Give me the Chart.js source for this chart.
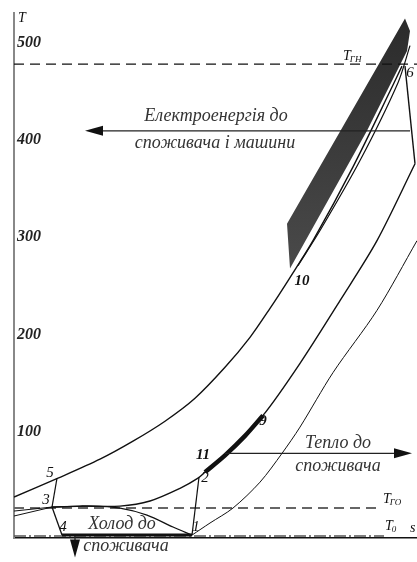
<!DOCTYPE html>
<html>
<head>
<meta charset="utf-8">
<script src="https://cdn.jsdelivr.net/npm/chart.js@4/dist/chart.umd.min.js"></script>
<style>
html, body { margin: 0; padding: 0; background: #fff; }
</style>
</head>
<body>
<canvas id="grafica" width="417" height="562"></canvas>
<script>
// diagrama T-s, s en unidades relativas (0..403), T en grados
const yTicks = [100, 200, 300, 400, 500]

// curva 5 - 10 - 6
const curvaA_s = [0, 44, 86, 119, 151, 181, 211, 236, 256, 276, 299, 339, 379, 388]
const curvaA_T = [42.1, 61.5, 81, 99.5, 120, 143.6, 175.4, 206.2, 236, 267.7, 305.6, 381.5, 465.6, 485]
// paralela a la anterior cerca de 6
const curvaA2_s = [284, 306, 346, 384, 396]
const curvaA2_T = [280, 316, 388, 468, 506]
// curva 3 - 2 - 11 - 9
const curvaB_s = [38, 66, 106, 136, 166, 184, 191, 211, 249, 286, 326, 363, 401]
const curvaB_T = [31.8, 32.8, 32.8, 38, 51, 61.5, 67.7, 85, 126, 179.5, 244, 305.6, 384.6]
const tramo6_s = [401, 391]
const tramo6_T = [384.6, 485]
// tramo grueso 11 - 9
const tramo119_s = [191, 211, 231, 249]
const tramo119_T = [67.7, 85, 105, 126]
// curva fina desde 1
const curvaC_s = [178, 196, 219, 246, 268, 286, 319, 363, 403]
const curvaC_T = [3, 15.4, 30.8, 57.4, 87, 114, 170, 234, 305.6]
// linea inferior 3 - 1
const domo_s = [38, 76, 106, 133, 159, 178]
const domo_T = [31.8, 32.8, 30.8, 23.6, 11.3, 3]
const izq1_s = [0, 38], izq1_T = [27.7, 31.8]
const izq2_s = [0, 38], izq2_T = [22.6, 31.8]
const l34_s = [38, 48], l34_T = [31.8, 3]
const l53_s = [43, 38], l53_T = [61.5, 31.8]
const l12_s = [178, 185], l12_T = [3, 62.6]
const l41_s = [48, 178], l41_T = [3, 3]

// niveles de temperatura
const T_GN = 487
const T_GO = 30.8
const T_0 = 2

// zona oscura (electroenergia)
const banda_s = [273, 276, 301, 353, 393, 396, 391]
const banda_T = [323, 277, 323, 418.5, 500.5, 521, 534]

// flechas [s1, T1, s2, T2]
const flechaElec = [396, 418.5, 71, 418.5]
const flechaCalor = [211, 87, 398, 87]
const flechaFrio = [61, 2, 61, -20]

const textoElec = ['Електроенергія до', 'споживача і машини']
const textoCalor = ['Тепло до', 'споживача']
const textoFrio = ['Холод до', 'споживача']
const puntos = ['5', '3', '4', '1', '2', '11', '9', '10', '6']
const puntos_s = [36, 32, 49, 182, 191, 189, 249, 288, 396]
const puntos_T = [66.5, 39, 11, 11, 61.5, 85, 120, 264, 478]

const pts = (s, T) => s.map((v, i) => ({x: v, y: T[i]}))

function linea(s, T, ancho, extra) {
    return Object.assign({
        data: pts(s, T),
        showLine: true,
        borderColor: '#111',
        borderWidth: ancho,
        pointRadius: 0,
        tension: 0,
        fill: false
    }, extra || {})
}

const serif = '"Liberation Serif", "DejaVu Serif", serif'

function flecha(ctx, x1, y1, x2, y2) {
    const ang = Math.atan2(y2 - y1, x2 - x1)
    ctx.beginPath()
    ctx.moveTo(x1, y1)
    ctx.lineTo(x2 - 10 * Math.cos(ang), y2 - 10 * Math.sin(ang))
    ctx.stroke()
    ctx.beginPath()
    ctx.moveTo(x2, y2)
    ctx.lineTo(x2 - 18 * Math.cos(ang) - 5 * Math.sin(ang), y2 - 18 * Math.sin(ang) + 5 * Math.cos(ang))
    ctx.lineTo(x2 - 18 * Math.cos(ang) + 5 * Math.sin(ang), y2 - 18 * Math.sin(ang) - 5 * Math.cos(ang))
    ctx.closePath()
    ctx.fill()
}

const extras = {
    id: 'extras',
    beforeDatasetsDraw(chart) {
        const {ctx, scales: {x, y}} = chart
        ctx.save()
        const grad = ctx.createLinearGradient(0, y.getPixelForValue(534), 0, y.getPixelForValue(277))
        grad.addColorStop(0, '#2b2b2b')
        grad.addColorStop(1, '#4a4a4a')
        ctx.fillStyle = grad
        ctx.beginPath()
        banda_s.forEach((v, i) => {
            const px = x.getPixelForValue(v), py = y.getPixelForValue(banda_T[i])
            if (i === 0) ctx.moveTo(px, py)
            else ctx.lineTo(px, py)
        })
        ctx.closePath()
        ctx.fill()
        ctx.restore()
    },
    afterDatasetsDraw(chart) {
        const {ctx, scales: {x, y}} = chart
        const X = v => x.getPixelForValue(v)
        const Y = v => y.getPixelForValue(v)
        ctx.save()
        ctx.strokeStyle = '#222'
        ctx.fillStyle = '#111'
        ctx.lineWidth = 1.3
        for (const f of [flechaElec, flechaCalor, flechaFrio]) {
            flecha(ctx, X(f[0]), Y(f[1]), X(f[2]), Y(f[3]))
        }

        ctx.fillStyle = '#333'
        ctx.textAlign = 'center'
        ctx.textBaseline = 'middle'
        ctx.font = 'italic 18px ' + serif
        ctx.fillText(textoElec[0], 216, 116)
        ctx.fillText(textoElec[1], 215, 143)
        ctx.fillText(textoCalor[0], 338, 443)
        ctx.fillText(textoCalor[1], 338, 466)
        ctx.fillText(textoFrio[0], 122, 524)
        ctx.fillText(textoFrio[1], 126, 546)

        ctx.fillStyle = '#111'
        puntos.forEach((p, i) => {
            ctx.font = (p === '10' || p === '11' || p === '9' ? 'bold ' : '') + 'italic 15px ' + serif
            ctx.fillText(p, X(puntos_s[i]), Y(puntos_T[i]))
        })

        // nombres de ejes y niveles
        ctx.textAlign = 'left'
        ctx.font = 'italic 14px ' + serif
        ctx.fillText('T', 18, 18)
        ctx.fillText('s', 410, 528)
        const sub = (txt, idx, px, py) => {
            ctx.font = 'italic 14px ' + serif
            ctx.fillText(txt, px, py)
            const w = ctx.measureText(txt).width
            ctx.font = 'italic 9px ' + serif
            ctx.fillText(idx, px + w - 1, py + 4)
        }
        sub('T', 'ГН', 343, 56)
        sub('T', 'ГО', 383, 499)
        sub('T', '0', 385, 526)
        ctx.restore()
    }
}

new Chart(document.getElementById('grafica'), {
    type: 'scatter',
    data: {
        datasets: [
            linea(curvaA_s, curvaA_T, 1.4, {tension: 0.3}),
            linea(curvaA2_s, curvaA2_T, 1.2, {tension: 0.3}),
            linea(curvaB_s, curvaB_T, 1.4, {tension: 0.3}),
            linea(tramo6_s, tramo6_T, 1.4),
            linea(tramo119_s, tramo119_T, 4.5, {tension: 0.3}),
            linea(curvaC_s, curvaC_T, 1, {tension: 0.3}),
            linea(domo_s, domo_T, 1.3, {tension: 0.3}),
            linea(izq1_s, izq1_T, 1),
            linea(izq2_s, izq2_T, 1),
            linea(l34_s, l34_T, 1.3),
            linea(l53_s, l53_T, 1.2),
            linea(l12_s, l12_T, 1.2),
            linea(l41_s, l41_T, 3),
            linea([0, 403], [T_GN, T_GN], 1.4, {borderDash: [10, 6]}),
            linea([0, 368], [T_GO, T_GO], 2, {borderDash: [10, 6], borderColor: '#666'}),
            linea([0, 370], [T_0, T_0], 1.5, {borderDash: [12, 3, 2, 3], borderColor: '#555'})
        ]
    },
    options: {
        responsive: false,
        animation: false,
        layout: {padding: {left: 8, top: 8, right: 0, bottom: 24}},
        plugins: {
            legend: {display: false},
            tooltip: {enabled: false}
        },
        scales: {
            x: {
                type: 'linear',
                min: 0,
                max: 403,
                ticks: {display: false},
                grid: {display: false, drawTicks: false},
                border: {display: true, color: '#111', width: 1.5}
            },
            y: {
                type: 'linear',
                min: 0,
                max: 540,
                afterBuildTicks: axis => { axis.ticks = yTicks.map(v => ({value: v})) },
                ticks: {
                    mirror: true,
                    padding: 3,
                    labelOffset: -9,
                    color: '#222',
                    font: {family: serif, size: 16, style: 'italic', weight: 'bold'}
                },
                grid: {display: false, drawTicks: false},
                border: {display: true, color: '#888', width: 2}
            }
        }
    },
    plugins: [extras]
});
</script>
</body>
</html>
